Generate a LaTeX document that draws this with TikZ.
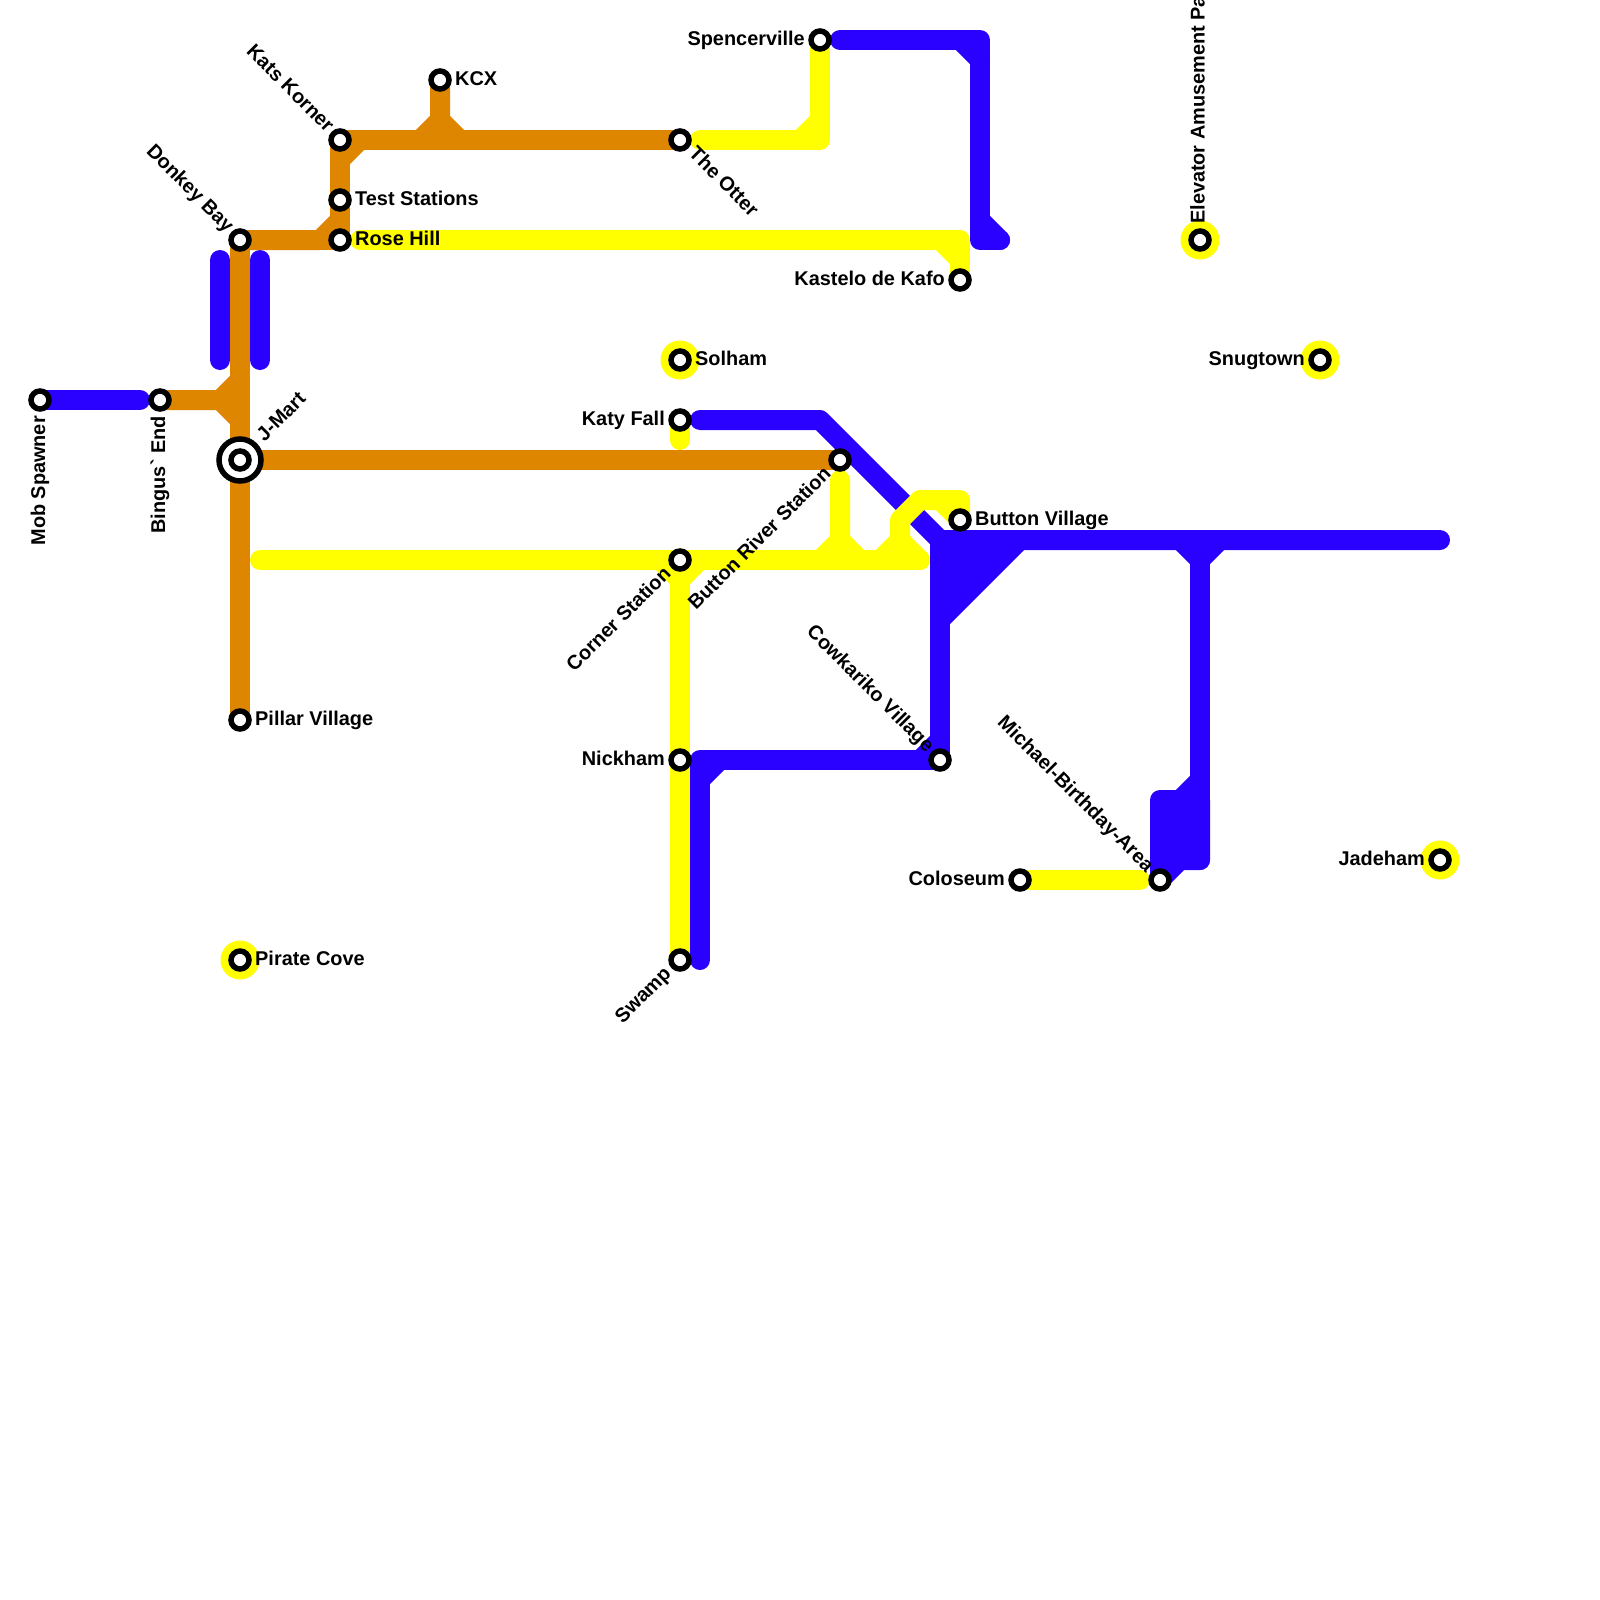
\documentclass[tikz,border=0pt]{standalone}
\usepackage{fontspec}
\setmainfont{Liberation Sans}[Ligatures=TeXOff]
\usetikzlibrary{backgrounds}
\definecolor{lineblue}{HTML}{2A00FF}
\definecolor{lineorange}{HTML}{DF8600}
\definecolor{lineyellow}{HTML}{FFFF00}
\tikzset{
  x=1pt,y=-1pt,
  metro/.style={line width=20pt,line cap=round,line join=round},
  blueline/.style={metro,draw=lineblue},
  orangeline/.style={metro,draw=lineorange},
  yellowline/.style={metro,draw=lineyellow},
  stn/.style={circle,draw=black,fill=white,line width=5.5pt,minimum size=18pt,inner sep=0pt,outer sep=0pt},
  halo/.style={circle,fill=lineyellow,minimum size=39pt,inner sep=0pt},
  bigring/.style={circle,draw=black,fill=white,line width=5.5pt,minimum size=42pt,inner sep=0pt},
  lbl/.style={font=\fontsize{19.9}{24}\selectfont\bfseries,inner sep=0pt,text=black},
}
\pgfdeclarelayer{lines}
\pgfsetlayers{lines,main}
\begin{document}
\begin{tikzpicture}
\useasboundingbox (0,0) rectangle (1600,1600);
\clip (0,0) rectangle (1600,1600);

% halos
\node[halo] (hpirate) at (240,960) {};
\node[halo] (hsolham) at (680,360) {};
\node[halo] (helev) at (1200,240) {};
\node[halo] (hsnug) at (1320,360) {};
\node[halo] (hjade) at (1440,860) {};

% stations
\node[bigring] (jmartring) at (240,460) {};
\foreach \n/\x/\y in {mob/40/400,bingus/160/400,donkey/240/240,jmart/240/460,pillar/240/720,pirate/240/960,
  kats/340/140,test/340/200,rose/340/240,kcx/440/80,otter/680/140,spencer/820/40,kastelo/960/280,
  solham/680/360,katy/680/420,briver/840/460,bvillage/960/520,corner/680/560,nickham/680/760,swamp/680/960,
  cowk/940/760,coloseum/1020/880,michael/1160/880,elevator/1200/240,snug/1320/360,jade/1440/860}
  \node[stn] (\n) at (\x,\y) {};

% free ends
\coordinate (mobend) at (140,400);
\coordinate (barlt) at (220,260);
\coordinate (barlb) at (220,360);
\coordinate (barrt) at (260,260);
\coordinate (barrb) at (260,360);
\coordinate (katyb) at (700,420);
\coordinate (spb) at (840,40);
\coordinate (spend) at (1000,240);
\coordinate (swampb) at (700,960);
\coordinate (eastend) at (1440,540);
\coordinate (rosey) at (360,240);
\coordinate (ottery) at (700,140);
\coordinate (maink) at (260,560);
\coordinate (mainend) at (920,560);
\coordinate (katyy) at (680,440);
\coordinate (rivery) at (840,480);
\coordinate (coly2) at (1140,880);

\begin{pgfonlayer}{lines}
% blue
\draw[blueline] (mob.center) -- (mobend);
\draw[blueline] (barlt) -- (barlb);
\draw[blueline] (barrt) -- (barrb);
\draw[blueline] (spb) -- (980,40) -- (980,240) -- (spend);
\draw[blueline] (960,40) -- (980,60);
\draw[blueline] (980,220) -- (spend);
\draw[blueline] (katyb) -- (820,420) -- (940,540) -- (eastend);
\draw[blueline] (940,540) -- (cowk.center);
\fill[lineblue] (940,540) -- (1020,540) -- (940,620) -- cycle;
\draw[blueline] (1020,540) -- (940,620);
\draw[blueline] (swampb) -- (700,760) -- (cowk.center);
\draw[blueline] (700,780) -- (720,760);
\draw[blueline] (920,760) -- (940,740);
\draw[blueline] (1180,540) -- (1200,560) -- (1220,540);
\draw[blueline] (1200,560) -- (1200,860);
\fill[lineblue] (1160,800) rectangle (1200,860);
\draw[blueline] (michael.center) -- (1160,800) -- (1200,800) -- (1200,860) -- (1180,860) -- cycle;
\draw[blueline] (1180,800) -- (1200,780);
% orange
\draw[orangeline] (bingus.center) -- (220,400) -- (240,380);
\draw[orangeline] (220,400) -- (240,420);
\draw[orangeline] (donkey.center) -- (pillar.center);
\draw[orangeline] (donkey.center) -- (320,240) -- (340,220);
\draw[orangeline] (donkey.center) -- (rose.center);
\draw[orangeline] (kats.center) -- (rose.center);
\draw[orangeline] (340,160) -- (360,140);
\draw[orangeline] (kats.center) -- (otter.center);
\draw[orangeline] (kcx.center) -- (440,120) -- (420,140);
\draw[orangeline] (440,120) -- (460,140);
\draw[orangeline] (jmart.center) -- (briver.center);
% yellow
\draw[yellowline] (rosey) -- (960,240) -- (kastelo.center);
\draw[yellowline] (940,240) -- (960,260);
\draw[yellowline] (ottery) -- (820,140) -- (spencer.center);
\draw[yellowline] (800,140) -- (820,120);
\draw[yellowline] (katy.center) -- (katyy);
\draw[yellowline] (maink) -- (mainend);
\draw[yellowline] (corner.center) -- (swamp.center);
\draw[yellowline] (680,580) -- (700,560);
\draw[yellowline] (660,560) -- (680,580);
\draw[yellowline] (rivery) -- (840,540) -- (820,560);
\draw[yellowline] (840,540) -- (860,560);
\draw[yellowline] (880,560) -- (900,540) -- (920,560);
\draw[yellowline] (900,540) -- (900,520) -- (920,500) -- (960,500) -- (bvillage.center);
\draw[yellowline] (940,500) -- (bvillage.center);
\draw[yellowline] (coloseum.center) -- (coly2);
\end{pgfonlayer}

% labels
\foreach \n/\t/\x/\y in {lkcx/KCX/440/80,ltest/Test Stations/340/200,lrose/Rose Hill/340/240,lpillar/Pillar Village/240/720,
  lpirate/Pirate Cove/240/960,lsolham/Solham/680/360,lbv/Button Village/960/520}
  \node[lbl,anchor=base west] (\n) at (\x+15,\y+5.5) {\t};
\foreach \n/\t/\x/\y in {lsp/Spencerville/820/40,lkast/Kastelo de Kafo/960/280,lkaty/Katy Fall/680/420,lnick/Nickham/680/760,
  lcol/Coloseum/1020/880,lsnug/Snugtown/1320/360,ljade/Jadeham/1440/860}
  \node[lbl,anchor=base east] (\n) at (\x-15,\y+5.5) {\t};
\foreach \n/\t/\x/\y in {ldonkey/Donkey Bay/240/240,lkats/Kats Korner/340/140,lcowk/Cowkariko Village/940/760,lmich/Michael-Birthday-Area/1160/880}
  \node[lbl,anchor=base east,rotate=-45] (\n) at (\x-13.8,\y-6.8) {\t};
\node[lbl,anchor=base west,rotate=-45] (lotter) at (680+7.8,140+14.8) {The Otter};
\node[lbl,anchor=base west,rotate=45] (ljmart) at (240+24.5,460-17.5) {J-Mart};
\foreach \n/\t/\x/\y in {lcorner/Corner Station/680/560,lswamp/Swamp/680/960,lriver/Button River Station/840/460}
  \node[lbl,anchor=base east,rotate=45] (\n) at (\x-7.8,\y+14.8) {\t};
\node[lbl,anchor=base east,rotate=90] (lmob) at (45,416) {Mob Spawner};
\node[lbl,anchor=base east,rotate=90] (lbing) at (165,416) {Bingus` End};
\node[lbl,anchor=base west,rotate=90] (lelev) at (1204.5,224) {Elevator Amusement Pa};
\end{tikzpicture}
\end{document}
